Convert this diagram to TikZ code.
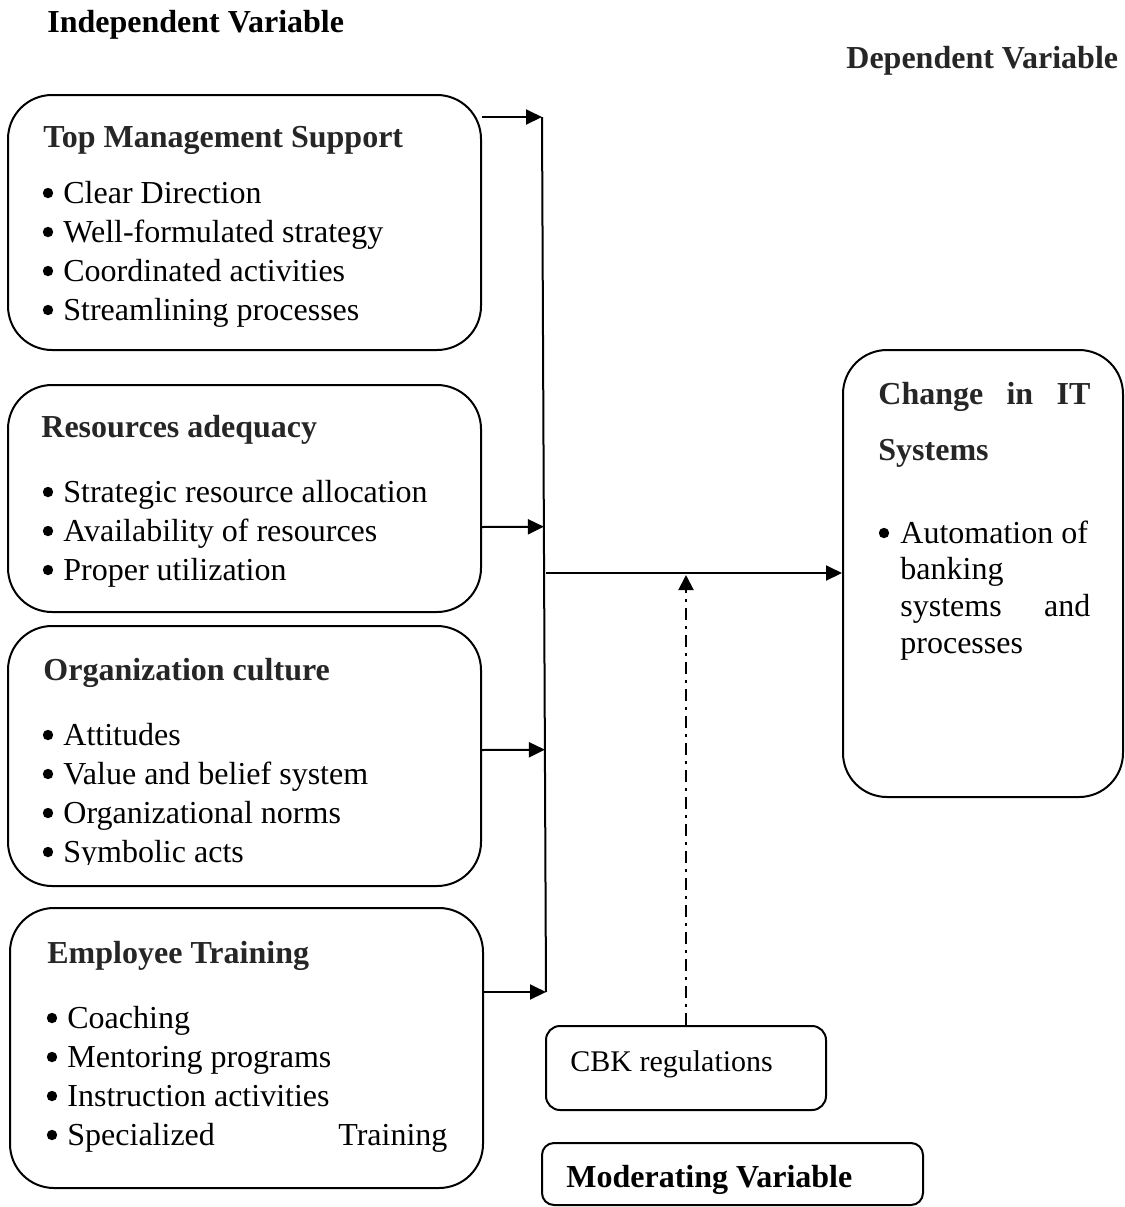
\documentclass[tikz,border=0pt]{standalone}
\usepackage{fontspec}
\setmainfont{Liberation Serif}
\usetikzlibrary{arrows.meta,fit,calc}
\definecolor{titlegray}{HTML}{262626}
\begin{document}
\begin{tikzpicture}[x=0.5pt,y=-0.5pt,
  bigbox/.style={draw, line width=1pt, rounded corners=22pt, inner sep=0pt},
  smallbox/.style={draw, line width=1pt, rounded corners=7pt, inner sep=0pt},
  ttl/.style={anchor=base west, inner sep=0pt, font=\fontsize{16}{19}\selectfont\bfseries, text=titlegray},
  hdr/.style={anchor=base west, inner sep=0pt, font=\fontsize{16}{19}\selectfont\bfseries},
  itm/.style={anchor=base west, inner sep=0pt, font=\fontsize{16}{19}\selectfont},
  bul/.style={fill=black, circle, inner sep=0pt, minimum size=5.2pt},
  link/.style={line width=1pt},
  conn/.style={line width=1pt, -{Triangle[length=8pt,width=7.5pt]}},
  modconn/.style={line width=1pt, dash pattern=on 6pt off 3pt on 1.5pt off 3pt, -{Triangle[length=7.5pt,width=7.5pt]}}]
\useasboundingbox (0,0) rectangle (1125,1207);

% headers
\node[hdr] (indep) at (47,32) {Independent Variable};
\node[ttl] (dep) at (846,68) {Dependent Variable};

% box 1
\node[bigbox, fit={(8,95) (481,350)}] (box1) {};
\node[ttl] (t1) at (43,147) {Top Management Support};
\node[itm] (b11) at (63,203) {Clear Direction};
\node[itm] (b12) at (63,242) {Well-formulated strategy};
\node[itm] (b13) at (63,281) {Coordinated activities};
\node[itm] (b14) at (63,320) {Streamlining processes};

% box 2
\node[bigbox, fit={(8,385) (481,612)}] (box2) {};
\node[ttl] (t2) at (41,437) {Resources adequacy};
\node[itm] (b21) at (63,502) {Strategic resource allocation};
\node[itm] (b22) at (63,541) {Availability of resources};
\node[itm] (b23) at (63,580) {Proper utilization};

% box 3
\node[ttl] (t3) at (43,680) {Organization culture};
\node[itm] (b31) at (63,745) {Attitudes};
\node[itm] (b32) at (63,784) {Value and belief system};
\node[itm] (b33) at (63,823) {Organizational norms};
\begin{scope}
\clip (0,820) rectangle (481,864);
\node[itm] (b34) at (63,862) {Symbolic acts};
\end{scope}
\node[bigbox, fit={(8,626) (481,886)}] (box3) {};

% box 4
\node[bigbox, fit={(10,908) (483,1188)}] (box4) {};
\node[ttl] (t4) at (47,963) {Employee Training};
\node[itm] (b41) at (67,1028) {Coaching};
\node[itm] (b42) at (67,1067) {Mentoring programs};
\node[itm] (b43) at (67,1106) {Instruction activities};
\node[itm] (b44) at (67,1145) {\makebox[190pt][s]{Specialized Training}};

% dependent box
\node[bigbox, fit={(843,350) (1123,797)}] (dbox) {};
\node[ttl] (td1) at (878,404) {\makebox[106pt][s]{Change in IT}};
\node[ttl] (td2) at (878,460) {Systems};
\node[itm] (bd1) at (900,543) {Automation of};
\node[itm] (bd2) at (900,579) {banking};
\node[itm] (bd3) at (900,616) {\makebox[95pt][s]{systems and}};
\node[itm] (bd4) at (900,653) {processes};

% bullets
\foreach \n in {b11,b12,b13,b14,b21,b22,b23,b31,b32,b33,b41,b42,b43,b44}
  \node[bul] at ($(\n.base west)+(-15,-10)$) {};
\node[bul] at ($(b34.base west)+(-15,-10)$) {};
\node[bul] at ($(bd1.base west)+(-16,-10)$) {};

% moderating
\node[smallbox, fit={(546,1026) (826,1110)}] (cbk) {};
\node[itm, font=\fontsize{15}{18}\selectfont] (tc) at (570,1071) {CBK regulations};
\node[smallbox, rounded corners=6pt, fit={(542,1143) (923,1205)}] (modbox) {};
\node[hdr] (tm) at (566,1187) {Moderating Variable};

% connectors
\coordinate (vtop) at (542,117);
\coordinate (vbot) at (546,992);
\draw[link] (vtop) -- (vbot);
\draw[conn] (box1.east |- vtop) -- (vtop);
\coordinate (r2) at (481,527);
\coordinate (r3) at (481,750);
\draw[conn] (r2) -- ($(vtop)!(r2)!(vbot)$);
\draw[conn] (r3) -- ($(vtop)!(r3)!(vbot)$);
\draw[conn] (box4.east |- vbot) -- (vbot);
\coordinate (hs) at (546,573);
\draw[conn] (hs) -- (dbox.west |- hs);
\draw[modconn, shorten >=1pt] (cbk.north) -- (cbk.north |- hs);
\end{tikzpicture}
\end{document}
